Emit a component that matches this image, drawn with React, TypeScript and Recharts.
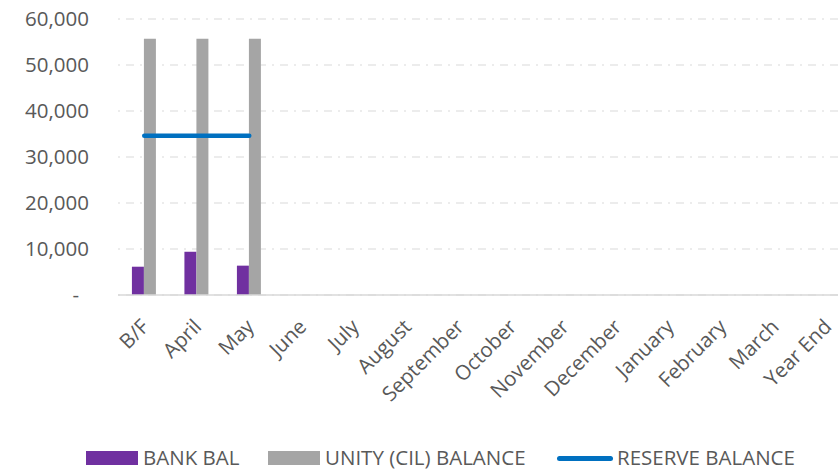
import { Bar, CartesianGrid, ComposedChart, Legend, Line, XAxis, YAxis } from "recharts";

const months = [
  "B/F",
  "April",
  "May",
  "June",
  "July",
  "August",
  "September",
  "October",
  "November",
  "December",
  "January",
  "February",
  "March",
  "Year End",
];

const bankBal = [6150, 9400, 6380, null, null, null, null, null, null, null, null, null, null, null];
const unityBalance = [55700, 55700, 55700, null, null, null, null, null, null, null, null, null, null, null];
const reserveBalance = [34600, 34600, 34600, null, null, null, null, null, null, null, null, null, null, null];

const yTicks = [0, 10000, 20000, 30000, 40000, 50000, 60000];

const PURPLE = "#7030A0";
const GREY = "#A5A5A5";
const BLUE = "#0070C0";
const TEXT = "#595959";
const GRID = "#D9D9D9";
const FONT_SIZE = 20.5;

const data = months.map((month, i) => ({
  month,
  bank: bankBal[i],
  unity: unityBalance[i],
  reserve: reserveBalance[i],
}));

function YTick({ x, y, payload }: any) {
  const value = Number(payload.value);
  return (
    <text
      x={value === 0 ? x - 10 : x}
      y={y}
      dy={7}
      textAnchor="end"
      fill={TEXT}
      fontSize={FONT_SIZE}
    >
      {value === 0 ? "-" : value.toLocaleString("en-US")}
    </text>
  );
}

function XTick({ x, y, payload }: any) {
  return (
    <g transform={`translate(${x + 6},${y + 25})`}>
      <text x={0} y={0} textAnchor="end" transform="rotate(-45)" fill={TEXT} fontSize={FONT_SIZE}>
        {payload.value}
      </text>
    </g>
  );
}

const legendItems = [
  { label: "BANK BAL", color: PURPLE, kind: "rect", left: 86 },
  { label: "UNITY (CIL) BALANCE", color: GREY, kind: "rect", left: 268 },
  { label: "RESERVE BALANCE", color: BLUE, kind: "line", left: 557 },
];

function ChartLegend() {
  return (
    <div style={{ position: "relative", width: 838, height: 16 }}>
      {legendItems.map((item) => (
        <div
          key={item.label}
          style={{
            position: "absolute",
            left: item.left,
            top: 0,
            height: 16,
            display: "flex",
            alignItems: "center",
            whiteSpace: "nowrap",
          }}
        >
          {item.kind === "rect" ? (
            <span
              style={{
                display: "inline-block",
                width: 52,
                height: 14,
                position: "relative",
                top: 1,
                background: item.color,
              }}
            />
          ) : (
            <span
              style={{
                display: "inline-block",
                width: 56,
                height: 5,
                borderRadius: 3,
                position: "relative",
                top: 1,
                background: item.color,
              }}
            />
          )}
          <span
            style={{
              marginLeft: item.kind === "rect" ? 5 : 4,
              color: TEXT,
              fontSize: FONT_SIZE,
              lineHeight: "16px",
            }}
          >
            {item.label}
          </span>
        </div>
      ))}
    </div>
  );
}

export default function App() {
  return (
    <div
      style={{
        position: "absolute",
        left: 0,
        top: 0,
        width: 838,
        height: 470,
        overflow: "hidden",
        background: "#fff",
        fontFamily: "'Open Sans', sans-serif",
      }}
    >
      <ComposedChart
        width={860}
        height={470}
        data={data}
        margin={{ top: 19, right: 7, bottom: 0, left: 0 }}
        barCategoryGap="26.5%"
        barGap={0}
      >
        <CartesianGrid vertical={false} stroke={GRID} strokeDasharray="2 6 8 6" />
        <XAxis
          dataKey="month"
          height={175}
          interval={0}
          tickLine={false}
          axisLine={{ stroke: GRID, strokeWidth: 1.3 }}
          tick={<XTick />}
        />
        <YAxis
          width={118}
          domain={[0, 60000]}
          ticks={yTicks}
          axisLine={false}
          tickLine={false}
          tickMargin={23}
          tick={<YTick />}
        />
        <Bar dataKey="bank" name="BANK BAL" fill={PURPLE} isAnimationActive={false} />
        <Bar dataKey="unity" name="UNITY (CIL) BALANCE" fill={GREY} isAnimationActive={false} />
        <Line
          type="linear"
          dataKey="reserve"
          name="RESERVE BALANCE"
          stroke={BLUE}
          strokeWidth={4.5}
          strokeLinecap="round"
          dot={false}
          activeDot={false}
          isAnimationActive={false}
        />
        <Legend
          layout="horizontal"
          verticalAlign="middle"
          align="center"
          wrapperStyle={{ top: 449, left: 0, width: 838, height: 16 }}
          content={() => <ChartLegend />}
        />
      </ComposedChart>
    </div>
  );
}
